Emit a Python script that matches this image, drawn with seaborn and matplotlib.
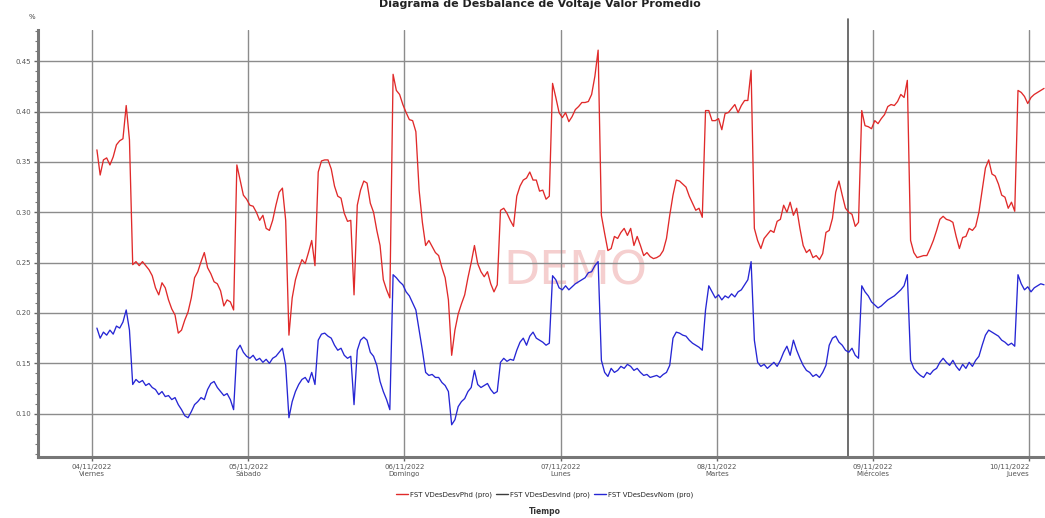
import numpy as np
import pandas as pd
import matplotlib
matplotlib.use("Agg")
import matplotlib.pyplot as plt
from matplotlib.lines import Line2D
from matplotlib.ticker import MultipleLocator
import seaborn as sns

# readings every 30 min, starting 04/11/2022 00:45
start = "2022-11-04 00:45"
step = "30min"

red_vals = [
    0.362, 0.337, 0.352, 0.354, 0.347, 0.355, 0.367, 0.371, 0.373, 0.406,
    0.372, 0.248, 0.251, 0.247, 0.251, 0.247, 0.243, 0.237, 0.225, 0.218,
    0.230, 0.225, 0.213, 0.204, 0.198, 0.180, 0.183, 0.193, 0.201, 0.215,
    0.235, 0.241, 0.251, 0.260, 0.245, 0.239, 0.231, 0.229, 0.222, 0.207,
    0.213, 0.211, 0.203, 0.347, 0.332, 0.317, 0.313, 0.307, 0.306, 0.300,
    0.292, 0.297, 0.284, 0.282, 0.292, 0.307, 0.320, 0.324, 0.292, 0.178,
    0.215, 0.233, 0.244, 0.253, 0.249, 0.260, 0.272, 0.247, 0.340, 0.351,
    0.352, 0.352, 0.343, 0.326, 0.316, 0.314, 0.299, 0.291, 0.292, 0.218,
    0.307, 0.322, 0.331, 0.329, 0.309, 0.300, 0.282, 0.267, 0.233, 0.223,
    0.215, 0.437, 0.421, 0.417, 0.407, 0.399, 0.392, 0.391, 0.380, 0.322,
    0.290, 0.267, 0.272, 0.266, 0.260, 0.257, 0.245, 0.235, 0.213, 0.158,
    0.183, 0.199, 0.209, 0.218, 0.235, 0.250, 0.267, 0.249, 0.241, 0.236,
    0.241, 0.229, 0.221, 0.228, 0.302, 0.304, 0.299, 0.292, 0.286, 0.316,
    0.326, 0.332, 0.334, 0.340, 0.332, 0.332, 0.321, 0.322, 0.313, 0.316,
    0.428, 0.414, 0.399, 0.394, 0.399, 0.390, 0.395, 0.402, 0.405, 0.409,
    0.409, 0.410, 0.417, 0.435, 0.461, 0.297, 0.279, 0.262, 0.264, 0.276,
    0.274, 0.280, 0.284, 0.277, 0.284, 0.267, 0.276, 0.267, 0.257, 0.260,
    0.256, 0.254, 0.255, 0.257, 0.262, 0.274, 0.297, 0.317, 0.332, 0.331,
    0.328, 0.325, 0.316, 0.309, 0.302, 0.304, 0.295, 0.401, 0.401, 0.391,
    0.391, 0.393, 0.382, 0.398, 0.399, 0.403, 0.407, 0.399, 0.406, 0.411,
    0.411, 0.441, 0.284, 0.272, 0.264, 0.274, 0.278, 0.282, 0.280, 0.291,
    0.293, 0.307, 0.300, 0.310, 0.297, 0.304, 0.284, 0.267, 0.260, 0.263,
    0.255, 0.257, 0.253, 0.259, 0.280, 0.282, 0.294, 0.320, 0.331, 0.317,
    0.304, 0.300, 0.298, 0.286, 0.290, 0.401, 0.386, 0.385, 0.383, 0.391,
    0.388, 0.393, 0.397, 0.405, 0.407, 0.406, 0.410, 0.417, 0.414, 0.431,
    0.272, 0.260, 0.255, 0.256, 0.257, 0.257, 0.264, 0.272, 0.282, 0.293,
    0.296, 0.293, 0.292, 0.290, 0.276, 0.264, 0.275, 0.276, 0.284, 0.282,
    0.286, 0.300, 0.322, 0.344, 0.352, 0.338, 0.336, 0.328, 0.317, 0.315,
    0.304, 0.310, 0.301, 0.421, 0.419, 0.415, 0.408, 0.414, 0.417, 0.419,
    0.421, 0.423,
]

blue_vals = [
    0.185, 0.175, 0.181, 0.178, 0.183, 0.179, 0.187, 0.185, 0.191, 0.203,
    0.183, 0.129, 0.134, 0.131, 0.133, 0.128, 0.130, 0.126, 0.124, 0.119,
    0.122, 0.117, 0.118, 0.114, 0.116, 0.109, 0.104, 0.098, 0.096, 0.102,
    0.109, 0.112, 0.116, 0.114, 0.124, 0.130, 0.132, 0.126, 0.122, 0.118,
    0.120, 0.114, 0.104, 0.163, 0.168, 0.161, 0.157, 0.155, 0.158, 0.153,
    0.155, 0.151, 0.154, 0.150, 0.155, 0.157, 0.161, 0.165, 0.148, 0.096,
    0.112, 0.122, 0.129, 0.134, 0.136, 0.131, 0.141, 0.129, 0.173, 0.179,
    0.180, 0.177, 0.175, 0.168, 0.163, 0.165, 0.158, 0.155, 0.157, 0.109,
    0.163, 0.173, 0.176, 0.173, 0.161, 0.157, 0.148, 0.132, 0.122, 0.114,
    0.104, 0.238, 0.235, 0.231, 0.228, 0.221, 0.217, 0.210, 0.203, 0.183,
    0.163, 0.141, 0.138, 0.139, 0.136, 0.136, 0.131, 0.128, 0.122, 0.089,
    0.094, 0.107, 0.112, 0.115, 0.122, 0.126, 0.143, 0.129, 0.126, 0.128,
    0.130, 0.124, 0.120, 0.122, 0.151, 0.155, 0.152, 0.154, 0.153, 0.163,
    0.171, 0.175, 0.168, 0.177, 0.181, 0.175, 0.173, 0.171, 0.168, 0.170,
    0.237, 0.233, 0.225, 0.223, 0.227, 0.223, 0.226, 0.229, 0.231, 0.233,
    0.235, 0.240, 0.241, 0.247, 0.251, 0.153, 0.141, 0.137, 0.145, 0.141,
    0.143, 0.147, 0.145, 0.149, 0.147, 0.143, 0.145, 0.141, 0.138, 0.139,
    0.136, 0.137, 0.138, 0.136, 0.139, 0.141, 0.148, 0.175, 0.181, 0.180,
    0.178, 0.177, 0.173, 0.170, 0.168, 0.166, 0.163, 0.203, 0.227, 0.221,
    0.215, 0.218, 0.213, 0.217, 0.215, 0.219, 0.216, 0.221, 0.223, 0.228,
    0.233, 0.251, 0.173, 0.151, 0.147, 0.149, 0.145, 0.148, 0.151, 0.147,
    0.153, 0.161, 0.167, 0.158, 0.173, 0.163, 0.155, 0.148, 0.143, 0.141,
    0.137, 0.139, 0.136, 0.141, 0.148, 0.168, 0.175, 0.177, 0.171, 0.168,
    0.163, 0.161, 0.165, 0.158, 0.155, 0.227, 0.221, 0.217, 0.211, 0.208,
    0.205, 0.207, 0.210, 0.213, 0.215, 0.217, 0.220, 0.223, 0.227, 0.238,
    0.153, 0.145, 0.141, 0.138, 0.136, 0.141, 0.139, 0.143, 0.145, 0.151,
    0.155, 0.151, 0.148, 0.153, 0.147, 0.143, 0.149, 0.145, 0.151, 0.147,
    0.153, 0.157, 0.168, 0.178, 0.183, 0.181, 0.179, 0.177, 0.173, 0.171,
    0.168, 0.170, 0.167, 0.238, 0.229, 0.223, 0.226, 0.221, 0.225, 0.227,
    0.229, 0.228,
]

series_names = ["FST VDesDesvPhd (pro)", "FST VDesDesvInd (pro)", "FST VDesDesvNom (pro)"]
series_colors = ["#e02a2a", "#3c3c3c", "#2626d4"]

day_ticks = ["2022-11-04", "2022-11-05", "2022-11-06", "2022-11-07",
             "2022-11-08", "2022-11-09", "2022-11-10"]
day_names = ["Viernes", "Sábado", "Domingo", "Lunes", "Martes", "Miércoles", "Jueves"]
y_ticks = [0.10, 0.15, 0.20, 0.25, 0.30, 0.35, 0.40, 0.45]
marker_time = "2022-11-08 20:05"

times = pd.date_range(start, periods=len(red_vals), freq=step)
n = len(times)
df = pd.DataFrame({
    "Tiempo": np.concatenate([times.values, times.values]),
    "valor": red_vals + blue_vals,
    "serie": [series_names[0]] * n + [series_names[2]] * n,
})

sns.set_theme(style="white")
plt.rcParams["font.family"] = ["DejaVu Sans"]

W, H = 1045, 518
fig = plt.figure(figsize=(W / 100, H / 100), dpi=100)
ax = fig.add_axes([38 / W, 61 / H, 1007 / W, 427 / H])

# watermark behind the lines
ax.text(575 / W, 1 - 272 / H, "DEMO", transform=fig.transFigure, fontsize=34,
        color="#f5cfcf", ha="center", va="center", zorder=0.5)

sns.lineplot(data=df, x="Tiempo", y="valor", hue="serie",
             palette={series_names[0]: series_colors[0], series_names[2]: series_colors[2]},
             linewidth=0.95, legend=False, estimator=None, ax=ax, zorder=3)

ax.set_xlim(pd.Timestamp("2022-11-03 15:42"), pd.Timestamp("2022-11-10 02:24"))
ax.set_ylim(0.057, 0.481)

ax.set_yticks(y_ticks)
ax.set_yticklabels([f"{v:.2f}" for v in y_ticks], fontsize=5, color="#555555")
ax.yaxis.set_minor_locator(MultipleLocator(0.01))
ax.set_xticks([pd.Timestamp(d) for d in day_ticks])
ax.set_xticklabels([pd.Timestamp(d).strftime("%d/%m/%Y") + "\n" + nm
                    for d, nm in zip(day_ticks, day_names)], fontsize=5, color="#555555")
# last label sits at the right edge of the figure
ax.get_xticklabels()[-1].set_horizontalalignment("right")
ax.tick_params(axis="both", which="major", length=3, width=1, color="#666666",
               direction="out", pad=2, left=True, bottom=True)
ax.tick_params(axis="y", which="minor", length=2, width=0.8, color="#777777",
               direction="out", left=True)

ax.grid(True, which="major", color="#8c8c8c", linewidth=1)
ax.set_axisbelow(True)
ax.set_xlabel("")
ax.set_ylabel("")

for side in ["top", "right"]:
    ax.spines[side].set_visible(False)
for side in ["left", "bottom"]:
    ax.spines[side].set_color("#777777")
    ax.spines[side].set_linewidth(2.2)

ax.axvline(pd.Timestamp(marker_time), ymin=0, ymax=1.025, color="#555555",
           linewidth=1.2, clip_on=False, zorder=2)

fig.text(0.517, 0.992, "Diagrama de Desbalance de Voltaje Valor Promedio",
         ha="center", va="center", fontsize=8, fontweight="bold", color="#222222")
fig.text(32 / W, 1 - 17 / H, "%", ha="center", va="center", fontsize=5, color="#444444")

handles = [Line2D([0], [0], color=c, linewidth=1) for c in series_colors]
fig.legend(handles, series_names, loc="center", bbox_to_anchor=(545 / W, 1 - 495 / H),
           ncol=3, frameon=False, fontsize=5, handlelength=1.6, handletextpad=0.4,
           columnspacing=0.6)
fig.text(545 / W, 1 - 512 / H, "Tiempo", ha="center", va="center", fontsize=5.5,
         fontweight="bold", color="#333333")

fig.savefig("out.png", dpi=100)
